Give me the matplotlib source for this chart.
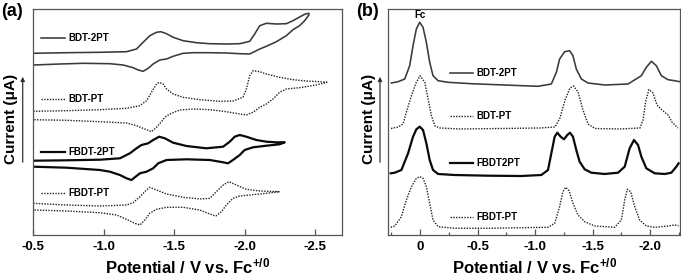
import matplotlib
matplotlib.use('Agg')
import matplotlib.pyplot as plt
from matplotlib.ticker import MultipleLocator, FixedLocator

plt.rcParams['font.family'] = ['Liberation Sans', 'DejaVu Sans']
plt.rcParams['font.weight'] = 'bold'
plt.rcParams['mathtext.fontset'] = 'custom'
plt.rcParams['mathtext.rm'] = 'Liberation Sans:bold'
plt.rcParams['mathtext.it'] = 'Liberation Sans:bold'
plt.rcParams['mathtext.bf'] = 'Liberation Sans:bold'

# ---------------- (a) cyclic voltammograms (potential V, current a.u.) ----------------
cv_bdt2pt_V = [-0.500, -0.736, -0.973, -1.162, -1.233, -1.280, -1.327, -1.375, -1.405, -1.446,
               -1.493, -1.564, -1.658, -1.753, -1.871, -1.966, -2.037, -2.072, -2.108, -2.155,
               -2.226, -2.297, -2.344, -2.391, -2.427, -2.457,
               -2.457, -2.427, -2.391, -2.344, -2.297, -2.226, -2.155, -2.108, -2.037, -1.966,
               -1.871, -1.753, -1.635, -1.564, -1.493, -1.446, -1.398, -1.351, -1.316, -1.280,
               -1.245, -1.209, -1.138, -1.044, -0.855, -0.689, -0.500]
cv_bdt2pt_I = [181.7, 182.3, 182.7, 183.3, 186.0, 192.7, 199.3, 202.7, 203.3, 201.3,
               197.7, 194.3, 192.3, 191.3, 191.0, 191.3, 193.7, 201.0, 209.3, 211.7,
               211.0, 211.3, 214.3, 218.0, 220.7, 221.7,
               220.0, 214.3, 209.3, 205.3, 199.3, 193.3, 188.7, 186.0, 181.0, 181.3,
               182.0, 182.3, 182.3, 181.7, 178.7, 176.0, 175.0, 171.0, 166.7, 163.7,
               165.0, 167.3, 170.0, 171.3, 171.7, 171.0, 170.0]

cv_bdtpt_V = [-0.500, -0.736, -0.973, -1.162, -1.257, -1.304, -1.339, -1.375, -1.394, -1.422,
              -1.446, -1.493, -1.564, -1.682, -1.824, -1.918, -1.989, -2.013, -2.037, -2.060,
              -2.108, -2.155, -2.249, -2.344, -2.439, -2.533, -2.585,
              -2.585, -2.509, -2.391, -2.297, -2.249, -2.202, -2.155, -2.108, -2.060, -2.013,
              -1.966, -1.871, -1.753, -1.635, -1.540, -1.469, -1.434, -1.410, -1.375, -1.339,
              -1.304, -1.233, -1.162, -0.973, -0.736, -0.500]
cv_bdtpt_I = [123.7, 124.3, 125.3, 126.7, 129.3, 134.3, 142.7, 151.0, 152.7, 151.0,
              146.0, 141.0, 137.7, 135.3, 133.7, 134.0, 137.7, 146.0, 159.3, 164.3,
              163.3, 161.0, 157.7, 155.3, 154.0, 153.3, 152.7,
              152.7, 150.0, 147.3, 146.0, 142.7, 136.0, 131.0, 127.7, 122.7, 120.0,
              121.0, 123.3, 125.3, 126.0, 125.0, 121.0, 117.7, 113.3, 107.7, 103.3,
              105.3, 109.3, 112.0, 113.3, 114.7, 115.3]

cv_fbdt2pt_V = [-0.500, -0.736, -0.973, -1.115, -1.186, -1.233, -1.268, -1.316, -1.351, -1.394,
                -1.434, -1.493, -1.587, -1.729, -1.848, -1.895, -1.930, -1.966, -2.013, -2.084,
                -2.155, -2.226, -2.285,
                -2.285, -2.249, -2.155, -2.060, -2.001, -1.966, -1.918, -1.883, -1.848, -1.753,
                -1.587, -1.446, -1.387, -1.351, -1.304, -1.257, -1.221, -1.197, -1.162, -1.115,
                -1.044, -0.973, -0.736, -0.500]
cv_fbdt2pt_I = [74.3, 74.7, 75.3, 76.7, 81.7, 86.7, 90.0, 91.7, 95.0, 98.3,
                96.7, 92.3, 89.0, 86.7, 88.3, 93.3, 98.3, 100.0, 98.3, 95.0,
                93.3, 92.7, 92.7,
                92.7, 90.7, 89.3, 87.7, 85.0, 80.0, 75.0, 71.7, 72.7, 75.0,
                75.7, 75.0, 71.7, 66.7, 63.3, 61.7, 57.7, 55.0, 56.7, 60.0,
                63.3, 65.0, 67.3, 68.3]

cv_fbdtpt_V = [-0.500, -0.736, -0.973, -1.162, -1.209, -1.257, -1.304, -1.327, -1.375, -1.446,
               -1.564, -1.682, -1.753, -1.800, -1.848, -1.890, -1.942, -2.013, -2.108, -2.249,
               -2.249, -2.155, -2.037, -1.966, -1.918, -1.871, -1.836, -1.796, -1.753, -1.682,
               -1.564, -1.446, -1.375, -1.327, -1.292, -1.257, -1.221, -1.162, -1.091, -0.973,
               -0.736, -0.500]
cv_fbdtpt_I = [31.7, 30.0, 29.0, 30.0, 32.3, 38.3, 45.0, 47.7, 45.0, 41.0,
               37.7, 36.0, 36.7, 43.3, 50.0, 53.3, 50.0, 45.7, 44.0, 43.3,
               43.3, 41.7, 40.0, 39.0, 36.7, 30.0, 23.3, 19.0, 21.0, 25.0,
               27.7, 27.7, 25.7, 21.7, 15.0, 10.0, 11.7, 15.7, 20.0, 22.3,
               24.0, 25.0]

# ---------------- (b) differential pulse voltammograms ----------------
dpv_bdt2pt_V = [0.249, 0.191, 0.133, 0.090, 0.061, 0.032, 0.003, -0.026, -0.055, -0.084,
                -0.113, -0.157, -0.243, -0.446, -0.736, -1.026, -1.142, -1.186, -1.214, -1.258,
                -1.301, -1.330, -1.359, -1.403, -1.461, -1.606, -1.809, -1.925, -1.968, -2.012,
                -2.055, -2.099, -2.157, -2.214, -2.258]
dpv_bdt2pt_I = [152.0, 153.3, 156.0, 169.3, 189.3, 206.0, 212.7, 207.7, 192.7, 172.7,
                159.3, 154.3, 152.7, 151.3, 150.0, 148.7, 151.0, 162.7, 176.0, 183.3,
                184.3, 179.3, 166.0, 156.0, 152.0, 150.0, 151.0, 159.3, 167.7, 173.7,
                169.3, 159.3, 155.3, 154.3, 153.3]

dpv_bdtpt_V = [0.252, 0.190, 0.148, 0.119, 0.075, 0.035, 0.000, -0.041, -0.070, -0.099,
               -0.130, -0.174, -0.348, -0.696, -1.043, -1.174, -1.217, -1.261, -1.304, -1.335,
               -1.374, -1.417, -1.461, -1.522, -1.739, -1.913, -1.939, -1.965, -1.991, -2.026,
               -2.061, -2.104, -2.157, -2.191, -2.243]
dpv_bdtpt_I = [106.5, 108.0, 111.0, 122.7, 139.3, 152.0, 159.3, 152.7, 136.0, 119.3,
               109.0, 107.0, 106.0, 106.5, 107.0, 108.0, 117.0, 135.0, 147.0, 149.0,
               143.0, 125.0, 111.0, 106.5, 106.0, 107.0, 115.0, 135.0, 145.5, 142.0,
               130.0, 125.0, 120.0, 113.0, 107.0]

dpv_fbdt2pt_V = [0.255, 0.220, 0.162, 0.104, 0.061, 0.032, 0.003, -0.026, -0.055, -0.084,
                 -0.113, -0.157, -0.301, -0.591, -0.881, -1.055, -1.113, -1.142, -1.171, -1.194,
                 -1.223, -1.252, -1.281, -1.304, -1.330, -1.359, -1.388, -1.432, -1.490, -1.606,
                 -1.722, -1.780, -1.823, -1.861, -1.896, -1.925, -1.968, -2.041, -2.128, -2.186,
                 -2.229, -2.249]
dpv_fbdt2pt_I = [61.7, 62.3, 65.0, 81.7, 98.3, 105.7, 108.3, 105.0, 91.7, 75.0,
                 65.0, 61.0, 60.0, 59.3, 59.0, 60.0, 65.0, 81.7, 98.3, 102.3,
                 98.3, 95.7, 100.0, 102.3, 98.3, 85.0, 73.3, 65.7, 62.3, 61.0,
                 62.3, 68.3, 86.7, 95.0, 90.0, 78.3, 66.7, 61.7, 61.0, 62.3,
                 68.3, 71.7]

dpv_fbdtpt_V = [0.255, 0.220, 0.162, 0.119, 0.075, 0.032, 0.003, -0.026, -0.055, -0.084,
                -0.113, -0.157, -0.301, -0.591, -0.881, -1.113, -1.171, -1.214, -1.243, -1.267,
                -1.296, -1.330, -1.374, -1.432, -1.519, -1.693, -1.751, -1.780, -1.803, -1.832,
                -1.867, -1.910, -1.968, -2.041, -2.157, -2.214, -2.249]
dpv_fbdtpt_I = [7.7, 9.0, 18.3, 35.0, 48.3, 56.7, 58.3, 56.7, 48.3, 31.7,
                15.0, 8.3, 6.7, 6.7, 7.3, 7.7, 11.7, 28.3, 43.3, 47.7,
                44.3, 31.7, 20.0, 13.3, 9.0, 7.7, 15.0, 35.0, 45.7, 43.3,
                28.3, 15.0, 9.0, 7.7, 9.0, 10.0, 9.3]

names_a = ['BDT-2PT', 'BDT-PT', 'FBDT-2PT', 'FBDT-PT']
names_b = ['BDT-2PT', 'BDT-PT', 'FBDT2PT', 'FBDT-PT']
xticks_a = [-0.5, -1.0, -1.5, -2.0, -2.5]
xticks_b = [0, -0.5, -1.0, -1.5, -2.0]
xticklabels_b = ['0', '-0.5', '-1.0', '-1.5', '-2.0']

W, H = 681, 277
fig = plt.figure(figsize=(W / 100, H / 100), dpi=100)

def axes_px(l, r, t, b):
    return fig.add_axes([l / W, (H - b) / H, (r - l) / W, (b - t) / H])

axA = axes_px(33.3, 341.7, 9, 235)
axB = axes_px(388.3, 680, 9, 235)

solid_thin = dict(color='#3a3a3a', lw=1.15, ls='-')
dotted = dict(color='#222222', lw=1.0, ls=(0, (1, 1)))
solid_thick = dict(color='#0a0a0a', lw=1.6, ls='-')
styles = [solid_thin, dotted, solid_thick, dotted]

for V, I, st in zip([cv_bdt2pt_V, cv_bdtpt_V, cv_fbdt2pt_V, cv_fbdtpt_V],
                    [cv_bdt2pt_I, cv_bdtpt_I, cv_fbdt2pt_I, cv_fbdtpt_I], styles):
    axA.plot(V, I, **st, solid_joinstyle='round')
for V, I, st in zip([dpv_bdt2pt_V, dpv_bdtpt_V, dpv_fbdt2pt_V, dpv_fbdtpt_V],
                    [dpv_bdt2pt_I, dpv_bdtpt_I, dpv_fbdt2pt_I, dpv_fbdtpt_I], styles):
    axB.plot(V, I, **st, solid_joinstyle='round')

# legend-like labels
leg_a_y = [0.873, 0.602, 0.369, 0.187]
for name, y, st in zip(names_a, leg_a_y, styles):
    axA.plot([0.025, 0.103], [y, y], transform=axA.transAxes, **st)
    axA.text(0.113, y, name, transform=axA.transAxes, fontsize=7, fontweight='bold',
             va='center', ha='left')
leg_b_y = [0.717, 0.525, 0.320, 0.081]
for name, y, st in zip(names_b, leg_b_y, styles):
    axB.plot([0.210, 0.290], [y, y], transform=axB.transAxes, **st)
    axB.text(0.302, y, name, transform=axB.transAxes, fontsize=7, fontweight='bold',
             va='center', ha='left')
axB.text(0.107, 0.975, 'Fc', transform=axB.transAxes, fontsize=7, fontweight='bold',
         va='center', ha='center')

for ax in (axA, axB):
    ax.set_ylim(0, 226)
    ax.set_yticks([])
    for s in ax.spines.values():
        s.set_color('#555555')
        s.set_linewidth(0.9)
    ax.tick_params(axis='x', which='both', direction='in', colors='#555555',
                   labelcolor='black', labelsize=9.5, pad=4)
    ax.tick_params(axis='x', which='major', length=4, width=0.9)
    ax.tick_params(axis='x', which='minor', length=2.5, width=0.9)
    for t in ax.get_xticklabels():
        t.set_fontweight('bold')
    ax.set_xlabel('Potential / V vs. Fc$^{+/0}$', fontsize=12, fontweight='bold', labelpad=3)

axA.set_xlim(-0.5, -2.69)
axA.set_xticks(xticks_a)
axA.set_xticklabels([f'{v:.1f}' for v in xticks_a], fontweight='bold')
axB.set_xlim(0.276, -2.261)
axB.set_xticks(xticks_b)
axB.set_xticklabels(xticklabels_b, fontweight='bold')
axB.xaxis.set_minor_locator(FixedLocator([0.25, -0.25, -0.75, -1.25, -1.75, -2.25]))

# y labels with arrows
for xt, xa in [(11, 22.7), (368.5, 380)]:
    fig.text(xt / W, (H - 119) / H, 'Current (\u03bcA)', rotation=90, fontsize=11,
             fontweight='bold', ha='center', va='center')
    fig.add_artist(matplotlib.patches.FancyArrowPatch(
        (xa / W, (H - 165) / H), (xa / W, (H - 74) / H), transform=fig.transFigure,
        arrowstyle='-|>', mutation_scale=6, lw=0.9, color='#333333'))

fig.text(1 / W, (H - 11) / H, '(a)', fontsize=13, fontweight='bold', ha='left', va='center')
fig.text(356 / W, (H - 11) / H, '(b)', fontsize=13, fontweight='bold', ha='left', va='center')

fig.savefig('out.png', dpi=100)
